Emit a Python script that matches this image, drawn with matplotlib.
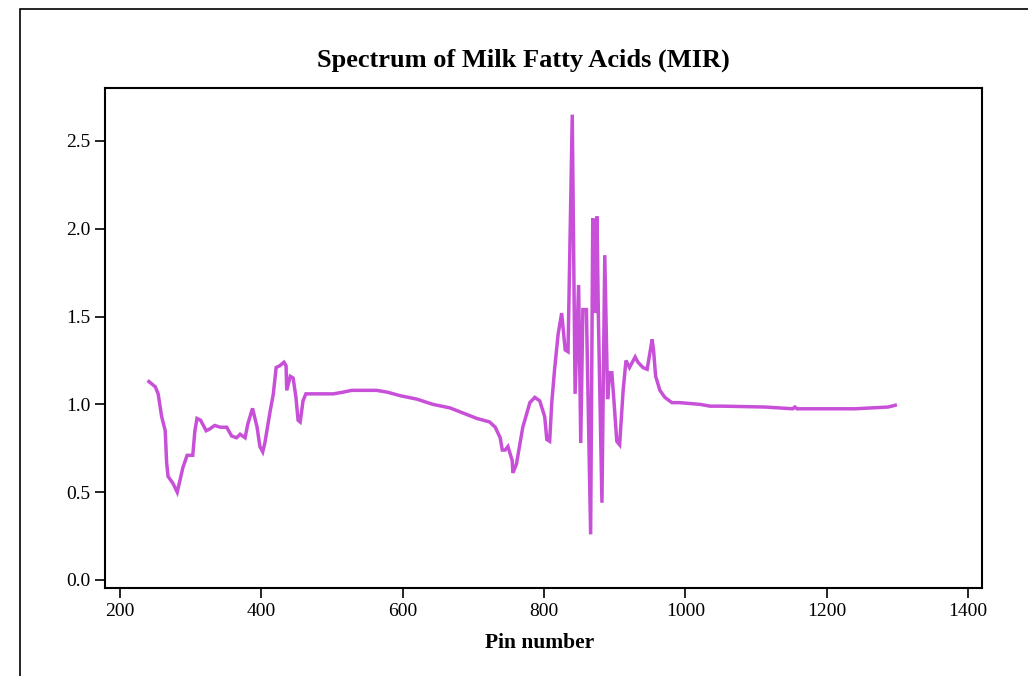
import matplotlib
matplotlib.use("Agg")
import matplotlib.pyplot as plt
from matplotlib.patches import Rectangle

# spectrum (pin number, absorbance)
pin = [241, 250, 254, 259, 264, 266, 268, 275, 281, 285, 289, 295, 303, 306, 309, 314,
       322, 327, 334, 342, 351, 358, 365, 370, 377, 381, 387, 388, 394, 398, 402, 405,
       412, 417, 421, 426, 432, 435, 436, 441, 445, 449, 452, 455, 459, 463, 483, 502,
       516, 528, 563, 578, 596, 620, 643, 667, 686, 705, 723, 731, 738, 741, 745, 749,
       755, 756, 761, 770, 780, 787, 794, 801, 804, 808, 811, 815, 820, 825, 830, 834,
       840, 844, 849, 852, 855, 860, 866, 869, 873, 875, 877, 882, 886, 890, 893, 896,
       899, 903, 907, 912, 916, 921, 929, 933, 940, 946, 953, 955, 958, 964, 971, 981,
       992, 1021, 1035, 1052, 1113, 1152, 1155, 1158, 1240, 1287, 1297]
absorb = [1.13, 1.10, 1.06, 0.93, 0.85, 0.67, 0.59, 0.55, 0.50, 0.57, 0.64, 0.71, 0.71, 0.85, 0.92, 0.91,
          0.85, 0.86, 0.88, 0.87, 0.87, 0.82, 0.81, 0.83, 0.81, 0.89, 0.97, 0.97, 0.87, 0.76, 0.73, 0.78,
          0.95, 1.06, 1.21, 1.22, 1.24, 1.22, 1.08, 1.16, 1.15, 1.04, 0.91, 0.90, 1.02, 1.06, 1.06, 1.06,
          1.07, 1.08, 1.08, 1.07, 1.05, 1.03, 1.00, 0.98, 0.95, 0.92, 0.90, 0.87, 0.81, 0.74, 0.74, 0.76,
          0.68, 0.61, 0.66, 0.87, 1.01, 1.04, 1.02, 0.93, 0.80, 0.79, 1.01, 1.20, 1.40, 1.52, 1.31, 1.30,
          2.65, 1.06, 1.68, 0.78, 1.54, 1.54, 0.26, 2.06, 1.52, 2.07, 1.49, 0.44, 1.85, 1.03, 1.18, 1.18,
          1.02, 0.79, 0.77, 1.08, 1.25, 1.21, 1.27, 1.24, 1.21, 1.20, 1.37, 1.31, 1.16, 1.08, 1.04, 1.01,
          1.01, 1.00, 0.99, 0.99, 0.985, 0.975, 0.985, 0.975, 0.975, 0.985, 0.995]

x_ticks = [200, 400, 600, 800, 1000, 1200, 1400]
y_ticks = [0.0, 0.5, 1.0, 1.5, 2.0, 2.5]

serif = "Liberation Serif"

fig = plt.figure(figsize=(10.28, 6.76), dpi=100)
fig.patches.append(Rectangle((20 / 1028, -0.1), 1.2, 1.1 - 9 / 676, transform=fig.transFigure,
                             fill=False, edgecolor="black", linewidth=1.2))

ax = fig.add_axes([105 / 1028, 1 - 588 / 676, 877 / 1028, 500 / 676])
ax.plot(pin, absorb, color="#c850d8", linewidth=2.5, solid_joinstyle="miter")

ax.set_xlim(178.8, 1419.8)
ax.set_ylim(-0.0456, 2.8018)
ax.set_xticks(x_ticks)
ax.set_yticks(y_ticks)
ax.set_yticklabels([f"{v:.1f}" for v in y_ticks])
ax.tick_params(direction="out", length=7, width=1.2, labelsize=14)
for lab in ax.get_xticklabels() + ax.get_yticklabels():
    lab.set_fontfamily(serif)
for s in ax.spines.values():
    s.set_linewidth(1.5)

fig.text(0.509, 1 - 60 / 676, "Spectrum of Milk Fatty Acids (MIR)", ha="center", va="center",
         fontsize=19, fontweight="bold", fontfamily=serif)
fig.text(0.5253, 1 - 643 / 676, "Pin number", ha="center", va="center",
         fontsize=15.5, fontweight="bold", fontfamily=serif)

fig.savefig("out.png", dpi=100)
